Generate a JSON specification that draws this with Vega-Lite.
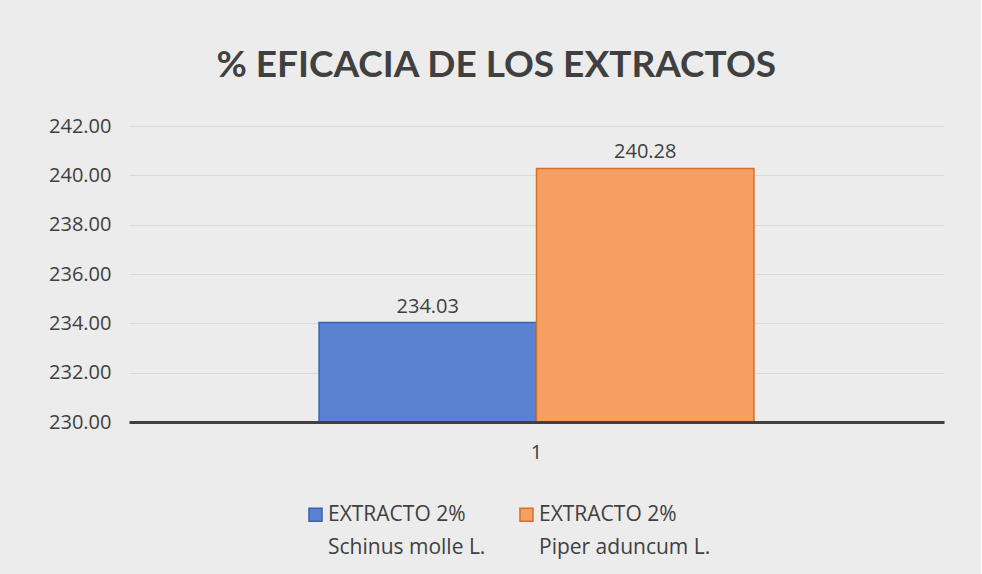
{
  "$schema": "https://vega.github.io/schema/vega-lite/v6.json",
  "width": 815,
  "height": 296,
  "padding": {"left": 48, "top": 47, "right": 37, "bottom": 24},
  "background": "#ececec",
  "title": {
    "text": "% EFICACIA DE LOS EXTRACTOS",
    "fontSize": 37,
    "font": "Lato",
    "fontWeight": "bold",
    "color": "#404040",
    "anchor": "middle",
    "frame": "bounds",
    "offset": 31
  },
  "config": {"view": {"stroke": null}},
  "data": {
    "values": [
      {"categoria": "1", "serie": "EXTRACTO 2%|Schinus molle L.", "valor": 234.03},
      {"categoria": "1", "serie": "EXTRACTO 2%|Piper aduncum L.", "valor": 240.28}
    ]
  },
  "encoding": {
    "x": {
      "field": "categoria",
      "type": "nominal",
      "scale": {"paddingInner": 0, "paddingOuter": 0.437},
      "axis": {
        "title": null,
        "labelAngle": 0,
        "ticks": false,
        "domainColor": "#404040",
        "domainWidth": 3,
        "labelFontSize": 20,
        "labelFont": "Open Sans",
        "labelColor": "#404040",
        "labelPadding": 20,
        "zindex": 1
      }
    },
    "xOffset": {
      "field": "serie",
      "type": "nominal",
      "sort": ["EXTRACTO 2%|Schinus molle L.", "EXTRACTO 2%|Piper aduncum L."],
      "scale": {"paddingInner": 0, "paddingOuter": 0}
    },
    "y": {
      "field": "valor",
      "type": "quantitative",
      "scale": {"domain": [230, 242], "zero": false, "nice": false},
      "axis": {
        "title": null,
        "values": [230, 232, 234, 236, 238, 240, 242],
        "format": ".2f",
        "domain": false,
        "ticks": false,
        "grid": true,
        "gridColor": "#d9d9d9",
        "labelFontSize": 20,
        "labelFont": "Open Sans",
        "labelColor": "#404040",
        "labelPadding": 18
      }
    }
  },
  "layer": [
    {
      "mark": {"type": "bar", "strokeWidth": 1.5},
      "encoding": {
        "y2": {"datum": 230},
        "color": {
          "field": "serie",
          "type": "nominal",
          "sort": ["EXTRACTO 2%|Schinus molle L.", "EXTRACTO 2%|Piper aduncum L."],
          "scale": {"domain": ["EXTRACTO 2%|Schinus molle L.", "EXTRACTO 2%|Piper aduncum L."], "range": ["#5a82d0", "#f5a062"]},
          "legend": {
            "title": null,
            "orient": "none",
            "legendX": 176,
            "legendY": 378,
            "direction": "horizontal",
            "columns": 2,
            "columnPadding": 30,
            "symbolType": "square",
            "symbolSize": 170,
            "symbolStrokeWidth": 1.5,
            "labelFontSize": 21,
            "labelFont": "Open Sans",
            "labelColor": "#404040",
            "labelOffset": 2,
            "labelLimit": 300,
            "labelExpr": "split(datum.label, '|')",
            "encoding": {"labels": {"lineHeight": {"value": 33}}}
          }
        },
        "stroke": {
          "field": "serie",
          "type": "nominal",
          "scale": {"domain": ["EXTRACTO 2%|Schinus molle L.", "EXTRACTO 2%|Piper aduncum L."], "range": ["#3a62b0", "#d4702c"]},
          "legend": null
        }
      }
    },
    {
      "mark": {"type": "text", "dy": -16, "fontSize": 20, "font": "Open Sans", "color": "#404040"},
      "encoding": {"text": {"field": "valor", "type": "quantitative", "format": ".2f"}}
    }
  ]
}
